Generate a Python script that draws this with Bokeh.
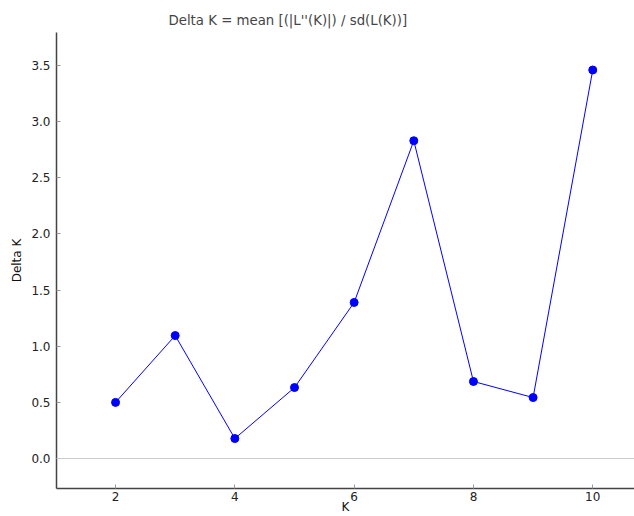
from bokeh.plotting import figure
from bokeh.models import FixedTicker, Span, Range1d, NumeralTickFormatter
from bokeh.embed import file_html
from bokeh.resources import INLINE

K = [2, 3, 4, 5, 6, 7, 8, 9, 10]
delta_k = [0.50, 1.095, 0.178, 0.632, 1.39, 2.83, 0.686, 0.543, 3.46]
x_ticks = [2, 4, 6, 8, 10]
y_ticks = [0.0, 0.5, 1.0, 1.5, 2.0, 2.5, 3.0, 3.5]

FONT = "DejaVu Sans"

p = figure(width=634, height=516, output_backend="svg", toolbar_location=None,
           x_range=Range1d(1.01, 10.70), y_range=Range1d(-0.267, 3.794),
           min_border_left=56, min_border_top=32, min_border_bottom=28, min_border_right=0,
           title="Delta K = mean [(|L''(K)|) / sd(L(K))]")
p.title.text_font = FONT
p.title.text_font_size = "13.3px"
p.title.text_font_style = "normal"
p.title.align = "left"
p.title.offset = 112
p.title.standoff = 9
p.outline_line_color = None
p.background_fill_color = "white"
p.border_fill_color = "white"
p.xgrid.visible = False
p.ygrid.visible = False

for ax in (p.xaxis[0], p.yaxis[0]):
    ax.axis_line_color = "#444444"
    ax.axis_line_width = 1.5
    ax.major_tick_in = 4
    ax.major_tick_out = 0
    ax.major_tick_line_color = "#999999"
    ax.minor_tick_line_color = None
    ax.major_label_text_font = FONT
    ax.major_label_text_font_size = "12px"
    ax.major_label_text_color = "#222222"
    ax.axis_label_text_font = FONT
    ax.axis_label_text_font_size = "12px"
    ax.axis_label_text_font_style = "normal"
    ax.axis_label_text_color = "#111111"

p.xaxis.ticker = FixedTicker(ticks=x_ticks)
p.yaxis.ticker = FixedTicker(ticks=y_ticks)
p.yaxis.formatter = NumeralTickFormatter(format="0.0")
p.xaxis.axis_label = "K"
p.yaxis.axis_label = "Delta K"
p.xaxis.major_label_standoff = 3
p.xaxis.axis_label_standoff = -4
p.yaxis.major_label_standoff = 6
p.yaxis.axis_label_standoff = 4

p.add_layout(Span(location=0, dimension="width", line_color="#cccccc", line_width=1))

p.line(K, delta_k, line_color="#0000ff", line_width=1)
p.scatter(K, delta_k, size=8, fill_color="#0000ff", line_color="#0000ff")

open("out.html", "w").write(file_html(p, INLINE))
